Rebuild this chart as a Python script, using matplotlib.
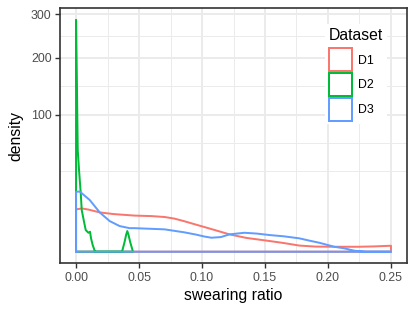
import numpy as np
import matplotlib
matplotlib.use("Agg")
import matplotlib.pyplot as plt
from matplotlib.patches import Patch

plt.rcParams['font.family'] = ['Liberation Sans', 'DejaVu Sans']

# ---- data (density curves) ----
d1_x = [0, 0.0008, 0.0045, 0.010, 0.0188, 0.030, 0.0465, 0.060, 0.0703, 0.078,
        0.0861, 0.095, 0.102, 0.112, 0.1218, 0.135, 0.1535, 0.165, 0.1773, 0.19,
        0.205, 0.2245, 0.237, 0.25]
d1_y = [9.43, 9.6, 9.98, 9.43, 8.22, 7.53, 6.94, 6.75, 6.41, 5.84,
        4.93, 3.92, 3.23, 2.34, 1.60, 1.02, 0.61, 0.40, 0.20, 0.14,
        0.13, 0.13, 0.15, 0.19]

d2_x = [0, 0.0008, 0.00135, 0.00238, 0.00372, 0.00452, 0.00634, 0.00769, 0.00983,
        0.0111, 0.0119, 0.0132, 0.0151, 0.025, 0.0365, 0.0385, 0.0398, 0.0407,
        0.0416, 0.043, 0.0452]
d2_y = [286, 130, 54.8, 35.4, 18.25, 9.21, 4.77, 2.49, 1.91,
        2.12, 0.95, 0.24, 0, 0, 0, 0.49, 1.56, 2.27,
        1.56, 0.49, 0]

d3_x = [0, 0.0029, 0.0109, 0.0188, 0.0267, 0.0346, 0.0425, 0.0465, 0.0703, 0.0861,
        0.095, 0.102, 0.1075, 0.115, 0.1218, 0.1337, 0.1435, 0.1535, 0.165, 0.1773,
        0.185, 0.193, 0.205, 0.213, 0.221, 0.23, 0.25]
d3_y = [19.07, 19.3, 14.2, 8.22, 4.99, 3.50, 2.95, 2.95, 2.66, 1.99,
        1.57, 1.22, 1.04, 1.14, 1.60, 1.91, 1.75, 1.48, 1.26, 0.95,
        0.66, 0.43, 0.13, 0.06, 0.005, 0, 0]

labels = ["D1", "D2", "D3"]
colors = ["#F8766D", "#00BA38", "#619CFF"]
x_ticks = [0.00, 0.05, 0.10, 0.15, 0.20, 0.25]
x_ticklabels = ["0.00", "0.05", "0.10", "0.15", "0.20", "0.25"]
y_ticks = [100, 200, 300]
y_ticklabels = ["100", "200", "300"]

# ---- figure ----
fig = plt.figure(figsize=(4.15, 3.12), dpi=100)
ax = fig.add_axes([60.3 / 415, 1 - 263.3 / 312, 346.4 / 415, 255 / 312])

fwd = lambda v: np.sign(v) * np.sqrt(np.abs(v))
inv = lambda v: np.sign(v) * v ** 2
ax.set_yscale('function', functions=(fwd, inv))

series = [(d1_x, d1_y), (d2_x, d2_y), (d3_x, d3_y)]
for (xs, ys), c in zip(series, colors):
    px = [xs[0]] + list(xs) + [xs[-1], xs[0]]
    py = [0] + list(ys) + [0, 0]
    ax.plot(px, py, color=c, lw=1.42, solid_joinstyle='round', zorder=3)

# limits (ggplot 5% expansion, in sqrt space)
xr = 0.25
ax.set_xlim(-0.05 * xr, xr + 0.05 * xr)
top = np.sqrt(max(d2_y))
ax.set_ylim(inv(-0.05 * top), inv(top * 1.05))

ax.set_xticks(x_ticks)
ax.set_xticklabels(x_ticklabels)
ax.set_xticks([0.025, 0.075, 0.125, 0.175, 0.225], minor=True)
ax.set_yticks(y_ticks)
ax.set_yticklabels(y_ticklabels)
s = np.sqrt(y_ticks)
b = np.concatenate([[s[0] - (s[1] - s[0])], s])
minor_s = list((b[:-1] + b[1:]) / 2) + [b[0]]
ax.set_yticks([m ** 2 for m in minor_s], minor=True)

ax.grid(which='major', color='#EBEBEB', lw=1.42, zorder=0)
ax.grid(which='minor', color='#EBEBEB', lw=0.71, zorder=0)
ax.set_axisbelow(True)
for sp in ax.spines.values():
    sp.set_color('#333333')
    sp.set_linewidth(1.2)
ax.tick_params(which='major', length=3.8, width=1.0, color='#333333',
               labelsize=8.9, labelcolor='#4D4D4D', pad=2.5)
ax.tick_params(which='minor', length=0)

ax.set_xlabel("swearing ratio", fontsize=11.3, labelpad=3)
ax.set_ylabel("density", fontsize=11.3, labelpad=5)

handles = [Patch(facecolor='none', edgecolor=c, lw=1.42) for c in colors]
leg = ax.legend(handles, labels, title="Dataset", loc='upper left',
                bbox_to_anchor=(0.764, 0.938), frameon=True, fontsize=8.9,
                title_fontsize=11.3, handlelength=1.9, handleheight=2.5,
                labelspacing=0.12, handletextpad=0.45, borderpad=0.3,
                borderaxespad=0)
leg._legend_box.align = "left"
leg._legend_box.sep = 4
leg.get_frame().set_edgecolor('none')
leg.get_frame().set_facecolor('white')
leg.get_frame().set_alpha(1)
leg.get_frame().set_boxstyle('square', pad=0)

fig.savefig("out.png", dpi=100)
